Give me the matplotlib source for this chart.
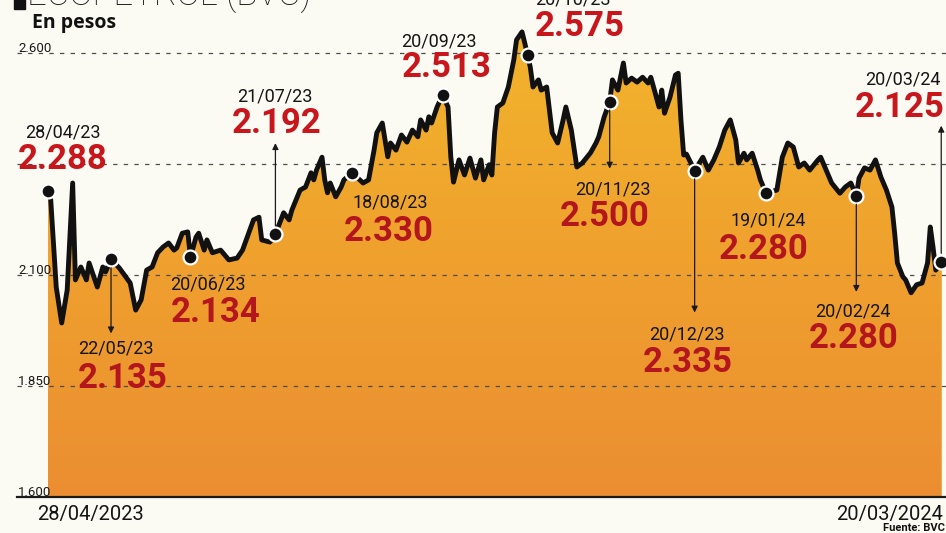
import matplotlib.pyplot as plt
import numpy as np
from matplotlib.colors import LinearSegmentedColormap
from matplotlib.patches import Rectangle

plt.rcParams['font.family'] = ['Roboto', 'DejaVu Sans']

# precio de la accion (pesos), dias contados desde el 28/04/2023
dias = [0, 1, 3, 5, 7, 9, 10, 12, 14, 15, 18, 20, 21, 23, 26, 30, 32, 34, 36, 38,
        40, 42, 44, 46, 47, 49, 51, 52, 54, 55, 57, 58, 60, 63, 66, 69, 71, 73, 75, 77,
        78, 81, 83, 86, 88, 89, 92, 94, 96, 97, 98, 100, 101, 102, 103, 105, 107, 108, 111, 115,
        117, 119, 120, 122, 124, 125, 127, 129, 131, 133, 135, 136, 138, 139, 140, 142, 144, 146, 147, 148,
        150, 152, 154, 156, 158, 159, 161, 162, 163, 164, 166, 168, 170, 171, 173, 174, 175, 176, 177, 179,
        180, 182, 183, 184, 186, 188, 189, 191, 193, 195, 198, 200, 201, 203, 205, 206, 208, 210, 211, 213,
        215, 217, 219, 220, 221, 223, 224, 225, 227, 229, 230, 231, 232, 233, 235, 236, 239, 241, 243, 245,
        247, 249, 251, 252, 254, 255, 257, 259, 260, 262, 266, 268, 270, 272, 274, 276, 278, 281, 282, 284,
        286, 289, 291, 293, 295, 296, 298, 300, 302, 304, 306, 308, 309, 310, 312, 313, 315, 317, 319, 321,
        322, 323, 324, 326]
precio = [2288, 2269, 2073, 1992, 2066, 2307, 2089, 2118, 2089, 2127, 2073, 2118, 2107, 2135, 2116, 2082, 2021, 2044, 2111, 2118,
          2150, 2163, 2172, 2156, 2161, 2194, 2197, 2140, 2185, 2194, 2156, 2179, 2150, 2156, 2134, 2138, 2156, 2190, 2224, 2230,
          2179, 2174, 2192, 2240, 2224, 2246, 2291, 2298, 2330, 2314, 2336, 2365, 2314, 2285, 2307, 2276, 2298, 2314, 2330, 2307,
          2314, 2381, 2420, 2442, 2366, 2397, 2381, 2415, 2399, 2426, 2411, 2449, 2426, 2456, 2442, 2478, 2505, 2478, 2366, 2309,
          2359, 2325, 2363, 2318, 2359, 2314, 2348, 2325, 2420, 2478, 2487, 2523, 2584, 2629, 2647, 2622, 2595, 2568, 2523, 2539,
          2516, 2523, 2471, 2420, 2397, 2449, 2478, 2426, 2343, 2352, 2375, 2397, 2411, 2456, 2490, 2539, 2516, 2577, 2532, 2543,
          2534, 2545, 2532, 2545, 2523, 2478, 2516, 2464, 2500, 2550, 2554, 2449, 2370, 2372, 2347, 2335, 2365, 2336, 2359, 2388,
          2426, 2449, 2404, 2352, 2374, 2359, 2374, 2336, 2314, 2285, 2291, 2365, 2397, 2388, 2343, 2352, 2336, 2359, 2365, 2336,
          2307, 2284, 2298, 2307, 2278, 2318, 2341, 2336, 2359, 2320, 2291, 2253, 2194, 2127, 2096, 2089, 2060, 2078, 2082, 2127,
          2208, 2163, 2111, 2130]

# fechas destacadas
marca_dias = [0, 23, 52, 83, 111, 144, 175, 205, 236, 262, 295, 326]
marca_fechas = ['28/04/23', '22/05/23', '20/06/23', '21/07/23', '18/08/23', '20/09/23',
                '20/10/23', '20/11/23', '20/12/23', '19/01/24', '20/02/24', '20/03/24']
marca_valores = [2288, 2135, 2134, 2192, 2330, 2513, 2575, 2500, 2335, 2280, 2280, 2125]

y_ticks = [1600, 1850, 2100, 2350, 2600]
y_labels = ['1.600', '1.850', '2.100', '', '2.600']
fecha_inicio = '28/04/2023'
fecha_fin = '20/03/2024'

# desplazamientos en pixeles: fecha (dx, dy), valor (dx, dy), flecha dy
etiquetas_pos = [
    (-23, 54, -30, 22, None),
    (-33, -94, -33, -129, -74),
    (-20, -32, -20, -65, None),
    (-38, 133, -44, 101, 91),
    (0, -35, -8, -68, None),
    (-41, 49, -41, 18, None),
    (8, 51, 7, 19, None),
    (-35, -93, -50, -124, -67),
    (-46, -169, -52, -201, -142),
    (-35, -33, -47, -66, None),
    (-41, -121, -48, -152, -96),
    (-76, 177, -86, 145, 136),
]

W, H = 946, 533
fig = plt.figure(figsize=(W / 100, H / 100), dpi=100)
fig.patch.set_facecolor('#FBFAF3')
ax = fig.add_axes([0, 0, 1, 1])
ax.set_axis_off()

# relleno con degradado
relleno = ax.fill_between(dias, precio, 1600, color='#F0A22E', lw=0, zorder=1)
cmap = LinearSegmentedColormap.from_list('papel', ['#EB8E32', '#EFA02E', '#F2B42C'])
grad = np.linspace(0, 1, 256).reshape(-1, 1)
im = ax.imshow(grad, extent=[dias[0], dias[-1], 1600, max(precio)], origin='lower',
               aspect='auto', cmap=cmap, zorder=1.1)
im.set_clip_path(relleno.get_paths()[0], transform=ax.transData)

# lineas guia
for t, lab in zip(y_ticks, y_labels):
    if t == 1600:
        ax.axhline(t, xmin=17 / W, xmax=1, color='#1a1a1a', lw=1.6, zorder=3)
    else:
        ax.axhline(t, xmin=17 / W, xmax=1, color='#4d4d4d', lw=0.9, dashes=(3.5, 5), zorder=2)
    if lab:
        ax.annotate(lab, xy=(dias[0], t), xytext=(-30, 1), textcoords='offset pixels',
                    ha='left', va='baseline', fontsize=9.5, color='#1a1a1a', annotation_clip=False)

ax.plot(dias, precio, color='#111111', lw=3.5, solid_joinstyle='round', zorder=4)

marca_y = [precio[dias.index(d)] for d in marca_dias]
ax.plot(marca_dias, marca_y, 'o', ms=10, mfc='#111111', mec='white', mew=1.6, zorder=5, clip_on=False)

for d, y, f, v, pos in zip(marca_dias, marca_y, marca_fechas, marca_valores, etiquetas_pos):
    fdx, fdy, vdx, vdy, ady = pos
    # las cifras que caen sobre el relleno se imprimen mas oscuras
    rojo = '#B3161C' if vdy < 0 else '#C8161D'
    if ady is not None:
        ax.annotate('', xy=(d, y), xytext=(0, ady), textcoords='offset pixels',
                    arrowprops=dict(arrowstyle='<|-', color='#1a1a1a', lw=0.9,
                                    shrinkA=0, shrinkB=6, mutation_scale=9), zorder=5)
    ax.annotate(f, xy=(d, y), xytext=(fdx, fdy), textcoords='offset pixels', ha='left',
                va='baseline', fontsize=13, color='#151515',
                annotation_clip=False, zorder=6)
    ax.annotate(f"{v:,}".replace(',', '.'), xy=(d, y), xytext=(vdx, vdy),
                textcoords='offset pixels', ha='left', va='baseline', fontsize=25,
                fontweight='bold', color=rojo, annotation_clip=False, zorder=6)

ax.annotate(fecha_inicio, xy=(dias[0], 1600), xytext=(-11, -23), textcoords='offset pixels',
            ha='left', va='baseline', fontsize=14.5, color='#151515')
ax.annotate(fecha_fin, xy=(dias[-1], 1600), xytext=(2, -23), textcoords='offset pixels',
            ha='right', va='baseline', fontsize=14.5, color='#151515')

ax.set_xlim(-48 / 2.74, (W - 48) / 2.74)
ax.set_ylim(2100 - (H - 275) * 2.25, 2100 + 275 * 2.25)

# titulo (cortado en el borde superior, como en el recorte original)
fig.patches.append(Rectangle((14 / W, 1 - 9 / H), 11 / W, 14 / H, transform=fig.transFigure,
                             color='#111111', zorder=10))
fig.text(27 / W, 1 - 6 / H, 'ECOPETROL (BVC)', fontsize=25, fontweight='light',
         ha='left', va='baseline', color='#1a1a1a')
fig.text(32 / W, 1 - 28 / H, 'En pesos', fontsize=14, fontweight='bold',
         family=['Open Sans', 'DejaVu Sans'], ha='left', va='baseline', color='#111111')
fig.text(883 / W, 1 - 531 / H, 'Fuente: BVC', fontsize=8, fontweight='bold',
         ha='left', va='baseline', color='#111111')

plt.savefig('out.png', dpi=100)
plt.close()
